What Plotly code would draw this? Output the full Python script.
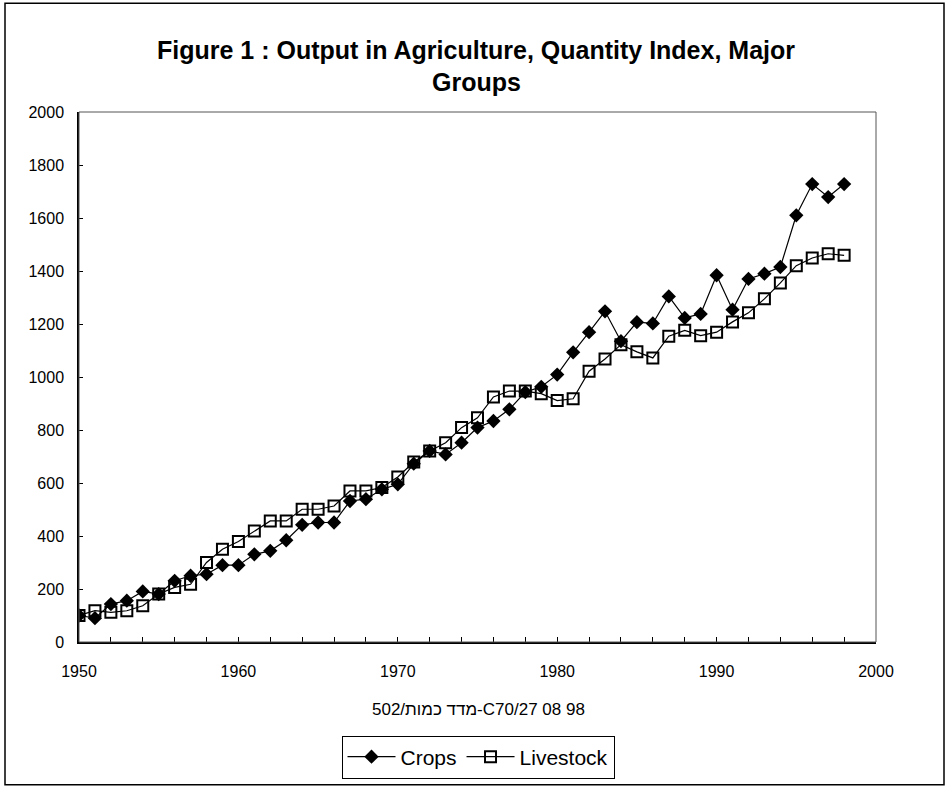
import plotly.graph_objects as go

years = list(range(1950, 1999))
crops = [100, 90, 143, 156, 191, 181, 231, 250, 256, 290,
         290, 331, 344, 384, 442, 451, 451, 532, 539, 576,
         595, 673, 721, 708, 752, 809, 834, 878, 943, 963,
         1009, 1093, 1169, 1248, 1135, 1207, 1202, 1304, 1223, 1238,
         1384, 1254, 1370, 1390, 1415, 1610, 1728, 1679, 1728]
livestock = [100, 118, 112, 118, 137, 181, 206, 218, 300, 350,
             379, 419, 457, 457, 501, 501, 513, 570, 570, 583,
             623, 679, 721, 752, 809, 846, 925, 947, 947, 937,
             911, 918, 1022, 1068, 1122, 1095, 1072, 1154, 1176, 1156,
             1169, 1208, 1242, 1295, 1355, 1420, 1449, 1465, 1459]

title_line1 = "Figure 1 : Output in Agriculture, Quantity Index, Major"
title_line2 = "Groups"
caption_text = "502/מדד כמות-C70/27 08 98"
x_ticks = [1950, 1960, 1970, 1980, 1990, 2000]
y_ticks = list(range(0, 2001, 200))

FONT = "Liberation Sans, Arial, sans-serif"

fig = go.Figure()
fig.add_trace(go.Scatter(
    x=years, y=crops, name="Crops", mode="lines+markers",
    line=dict(color="black", width=1.2),
    marker=dict(symbol="diamond", size=11, color="black"),
))
fig.add_trace(go.Scatter(
    x=years, y=livestock, name="Livestock", mode="lines+markers",
    line=dict(color="black", width=1.2),
    marker=dict(symbol="square-open", size=11, color="black", line=dict(width=2)),
))

W, H = 948, 789
L, R, T, B = 79, 876, 112, 643
pw, ph = R - L, B - T

def px(xp):
    return (xp - L) / pw

def py(yp):
    return (B - yp) / ph

shapes = [
    # outer chart frame
    dict(type="rect", xref="paper", yref="paper",
         x0=px(5), x1=px(944), y0=py(786), y1=py(3),
         line=dict(color="black", width=1.5)),
    # plot area border
    dict(type="rect", xref="paper", yref="paper",
         x0=0, x1=1, y0=0, y1=1,
         line=dict(color="#555", width=1)),
]

title_font = dict(family=FONT, size=25, color="black", weight="bold")

fig.update_layout(
    width=W, height=H,
    margin=dict(l=L, r=W - R, t=T, b=H - B),
    paper_bgcolor="white", plot_bgcolor="white",
    font=dict(family=FONT, color="black", size=16),
    showlegend=True,
    legend=dict(orientation="h", x=px(478), xanchor="center",
                y=py(757), yanchor="middle",
                bordercolor="black", borderwidth=1, bgcolor="white",
                font=dict(family=FONT, size=21, color="black"),
                itemwidth=48, tracegroupgap=0),
    shapes=shapes,
    annotations=[
        dict(text=title_line1, xref="paper", yref="paper",
             x=px(476), y=py(50), xanchor="center", yanchor="middle",
             showarrow=False, font=title_font),
        dict(text=title_line2, xref="paper", yref="paper",
             x=px(476), y=py(82), xanchor="center", yanchor="middle",
             showarrow=False, font=title_font),
        dict(text=caption_text, xref="paper", yref="paper",
             x=px(478), y=py(711), xanchor="center", yanchor="middle",
             showarrow=False, font=dict(family=FONT, size=17, color="black")),
    ],
)

fig.update_xaxes(range=[1950, 2000], tickvals=x_ticks, ticks="inside", ticklen=5,
                 tickcolor="black", showline=True, linecolor="black", linewidth=1.5,
                 showgrid=False, zeroline=False, ticklabelstandoff=14,
                 tickfont=dict(size=16),
                 minor=dict(dtick=2, tick0=1950, ticks="inside", ticklen=5, tickcolor="black", showgrid=False))
fig.update_yaxes(range=[0, 2000], tickvals=y_ticks, ticks="inside", ticklen=4,
                 tickcolor="black", showline=True, linecolor="black", linewidth=1.5,
                 showgrid=False, zeroline=False, ticklabelstandoff=10,
                 tickfont=dict(size=16))

fig.write_html("out.html",
               config={"displayModeBar": False},
               post_script="document.body.style.margin='0';document.body.style.overflow='hidden';")
